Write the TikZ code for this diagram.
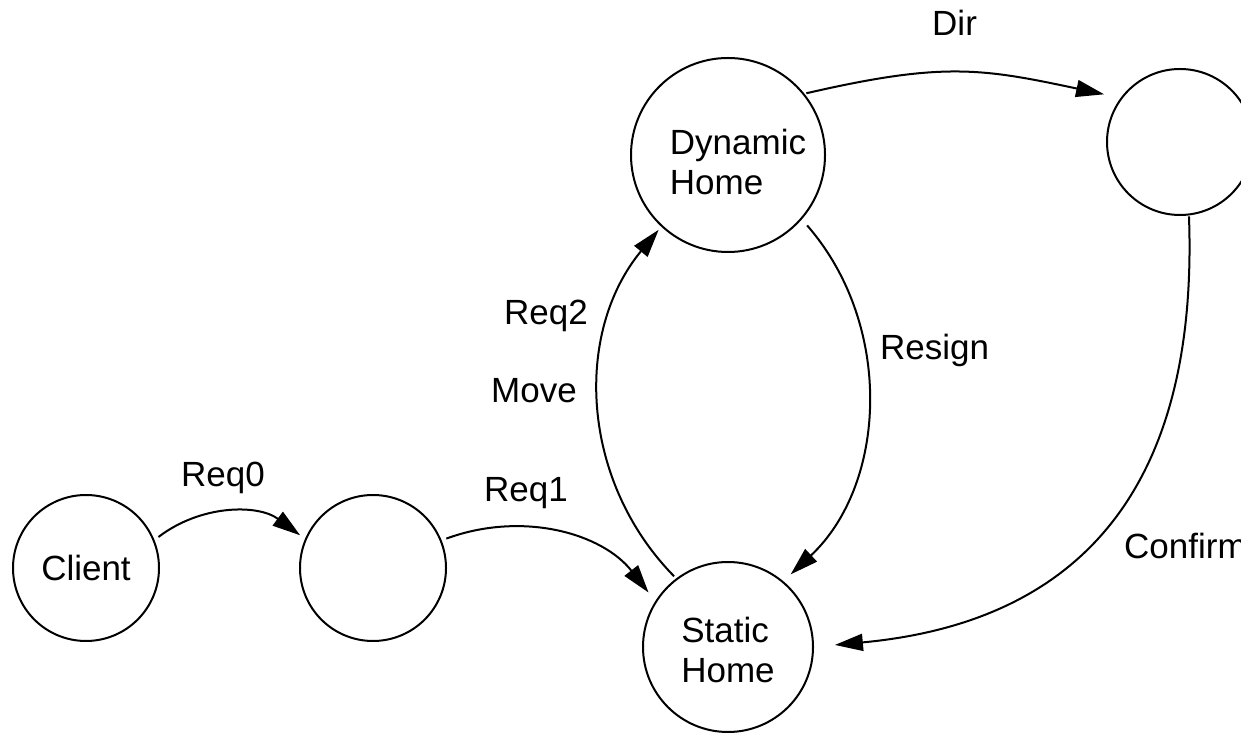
\documentclass[tikz,border=0pt]{standalone}
\usepackage{fontspec}
\setmainfont{Liberation Sans}
\usetikzlibrary{arrows.meta}
\begin{document}
\begin{tikzpicture}[x=1pt,y=1pt,
  state/.style={draw, circle, line width=2pt, inner sep=0pt, outer sep=0pt, align=left, font=\fontsize{35}{40}\selectfont},
  lbl/.style={anchor=base west, inner sep=0pt, font=\fontsize{35}{40}\selectfont},
  arr/.style={line width=2pt, -{Triangle[length=28pt,width=17pt]}}]
\useasboundingbox (0,0) rectangle (1241,733);
\node[state, minimum size=146pt] (client) at (86,165) {Client};
\node[state, minimum size=146pt] (relay) at (373,165) {};
\node[state, minimum size=170pt] (static) at (728,86) {\rule{0pt}{32pt}Static\\Home};
\node[state, minimum size=194pt] (dynamic) at (728,578) {\rule{0pt}{40pt}\hspace*{20pt}Dynamic\\\hspace*{20pt}Home};
\node[state, minimum size=146pt] (dir) at (1180,591) {};

\draw[arr, shorten <=6pt, shorten >=7pt] (client.22) to[bend left=37] (relay.157);
\draw[arr, shorten <=6pt, shorten >=12pt] (relay.22) to[bend left=36] (static.148);
\draw[arr, shorten <=4pt, shorten >=5pt] (static.127) to[bend left=42] (dynamic.227);
\draw[arr, shorten <=9pt, shorten >=11pt] (dynamic.-41) to[bend left=44] (static.50);
\draw[arr, shorten <=3pt, shorten >=18pt] (dynamic.39) to[out=13, in=168, looseness=1.15] (dir.143);
\draw[arr, shorten <=2pt, shorten >=22pt] (dir.-83) .. controls +(11,-305) and +(237,22) .. (static.0);

\node[lbl] (l0) at (181,246) {Req0};
\node[lbl] (l1) at (484,231) {Req1};
\node[lbl] (l2) at (504,408) {Req2};
\node[lbl] (lm) at (491,330) {Move};
\node[lbl] (lr) at (880,373) {Resign};
\node[lbl] (ld) at (932,697) {Dir};
\node[lbl] (lc) at (1124,174) {Confirm};
\end{tikzpicture}
\end{document}
